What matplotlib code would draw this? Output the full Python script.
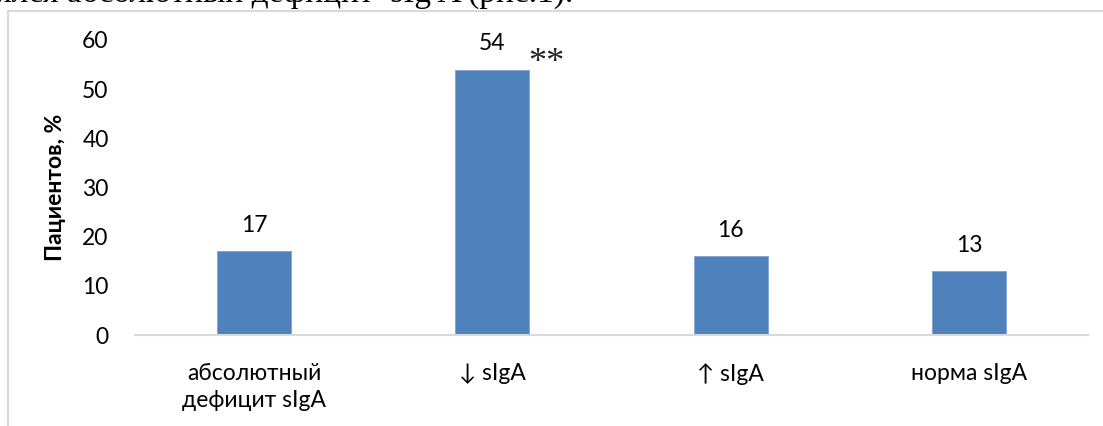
import matplotlib.pyplot as plt
from matplotlib.lines import Line2D

categories = ['абсолютный\nдефицит sIgA', '↓ sIgA', '↑ sIgA', 'норма sIgA']
values = [17, 54, 16, 13]
y_ticks = [0, 10, 20, 30, 40, 50, 60]

plt.rcParams['font.family'] = ['Lato', 'DejaVu Sans']

W, H = 1103, 426
fig = plt.figure(figsize=(W / 100, H / 100), dpi=100)
ax = fig.add_axes([135 / W, 91 / H, (1088 - 135) / W, 295 / H])

x = range(len(values))
bars = ax.bar(x, values, width=0.31, color='#4f81bd', edgecolor='#7fa3d4', linewidth=0.6)

# value labels above the bars
for xi, v in zip(x, values):
    ax.annotate(str(v), (xi, v), xytext=(0, 14), textcoords='offset points',
                ha='center', va='baseline', fontsize=16.5, color='black')

# significance mark next to the tallest bar
ax.text(1.225, 55.3, '**', ha='center', va='center', fontsize=26,
        family='Liberation Serif', color='#222222')

ax.set_xlim(-0.5, len(values) - 0.5)
ax.set_ylim(0, 60)
ax.set_yticks(y_ticks)
ax.set_xticks(list(x))
ax.set_xticklabels(categories, fontsize=16.5, linespacing=1.35)
ax.tick_params(axis='y', length=0, pad=19, labelsize=16.5)
ax.tick_params(axis='x', length=0, pad=20)
ax.set_ylabel('Пациентов, %', fontsize=16.5, fontweight='bold')
ax.yaxis.set_label_coords(-0.072, 0.5)

for side in ['top', 'right', 'left']:
    ax.spines[side].set_visible(False)
ax.spines['bottom'].set_color('#d9d9d9')
ax.spines['bottom'].set_linewidth(1.5)

# chart frame edges
fig.add_artist(Line2D([8 / W, 8 / W], [0, 1 - 11 / H], color='#d9d9d9', lw=1.5))
fig.add_artist(Line2D([8 / W, 1], [1 - 11 / H, 1 - 11 / H], color='#d9d9d9', lw=1.5))

# line of surrounding text, cut by the top edge
fig.text(573 / W, 1 - 2 / H, 'выявлялся абсолютный дефицит  sIg A (рис.1).',
         ha='right', va='baseline', fontsize=24, family='Liberation Serif')

fig.savefig('out.png', dpi=100)
